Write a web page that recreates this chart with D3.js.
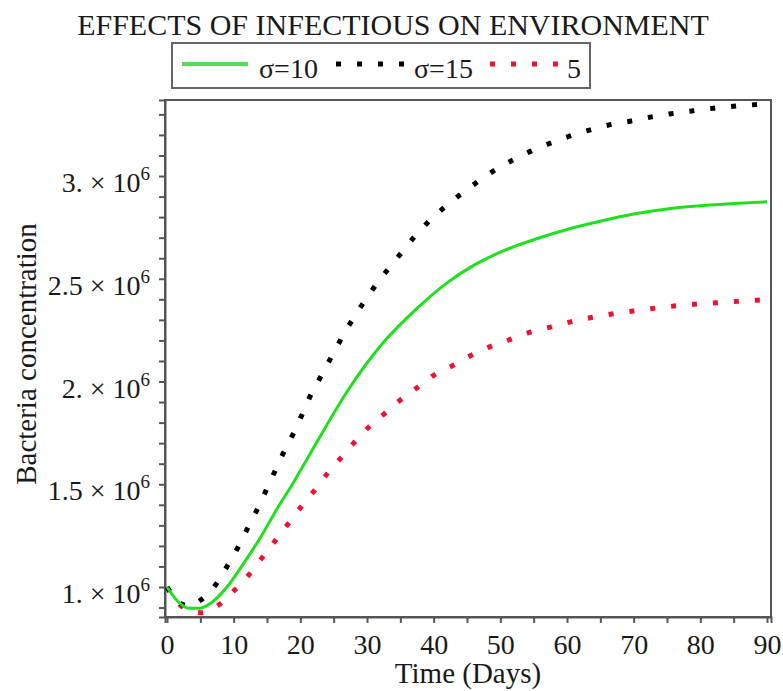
<!DOCTYPE html>
<html>
<head>
<meta charset="utf-8">
<script src="https://cdn.jsdelivr.net/npm/d3@7"></script>
<style>
body { margin: 0; background: #fff; }
</style>
</head>
<body>
<svg id="chart" width="783" height="691"></svg>
<script>
// values, concentration in units of 10^6
var days10 = [0, 2, 3.5, 5, 6.5, 9, 11.5, 14, 16.5, 19, 21.5, 24, 27, 30, 33, 36, 39, 42, 46, 50, 55, 60, 65, 70, 75, 80, 85, 90];
var conc10 = [1.00, 0.918, 0.896, 0.897, 0.92, 1.00, 1.115, 1.24, 1.38, 1.51, 1.65, 1.79, 1.95, 2.09, 2.21, 2.31, 2.40, 2.48, 2.565, 2.63, 2.69, 2.74, 2.78, 2.815, 2.84, 2.855, 2.866, 2.875];

var days15 = [0, 2, 3.5, 5, 7.4, 9, 10.6, 12, 13.5, 15, 16, 17.5, 19, 20.2, 21.5, 23, 24.5, 26, 27.6, 29.3, 31, 33, 35, 37, 39, 41.5, 44, 46.5, 49, 52, 54.5, 57.5, 60.5, 63.5, 66.5, 70, 73, 76, 79, 82, 85, 88.5, 90];
var conc15 = [1.00, 0.92, 0.908, 0.935, 1.015, 1.10, 1.19, 1.28, 1.375, 1.48, 1.55, 1.655, 1.75, 1.835, 1.93, 2.02, 2.11, 2.20, 2.29, 2.375, 2.455, 2.54, 2.62, 2.70, 2.77, 2.845, 2.91, 2.97, 3.025, 3.08, 3.12, 3.16, 3.195, 3.225, 3.25, 3.27, 3.29, 3.305, 3.318, 3.33, 3.34, 3.348, 3.352];

var days5 = [0, 2, 3.5, 5, 6.5, 8, 10, 12.3, 14.2, 16, 18, 20, 22, 24, 26, 28, 30, 32.5, 35, 37.5, 40, 43, 45.5, 48.5, 51.5, 54.5, 57.5, 60.5, 63.5, 67, 70, 73, 76, 79, 82.5, 85.5, 88.5, 90];
var conc5 = [1.00, 0.912, 0.885, 0.875, 0.888, 0.918, 0.98, 1.06, 1.14, 1.215, 1.30, 1.385, 1.465, 1.55, 1.625, 1.70, 1.77, 1.84, 1.91, 1.97, 2.03, 2.08, 2.125, 2.17, 2.205, 2.24, 2.265, 2.29, 2.31, 2.33, 2.343, 2.356, 2.367, 2.376, 2.383, 2.39, 2.396, 2.398];

var seriesNames = ["\u03c3=10", "\u03c3=15", "5"];
var xTicks = [0, 10, 20, 30, 40, 50, 60, 70, 80, 90];
var yTicks = [1, 1.5, 2, 2.5, 3];
var yTickText = ["1.", "1.5", "2.", "2.5", "3."];

var serif = "'Liberation Serif', 'Times New Roman', serif";
var ink = "#1a1a1a";

var svg = d3.select("#chart");

var x = d3.scaleLinear().domain([-0.3, 90.6]).range([165, 771]);
var y = d3.scaleLinear().domain([0.854, 3.37]).range([617, 100]);

// frame
svg.append("rect")
	.attr("x", 165).attr("y", 100)
	.attr("width", 771 - 165).attr("height", 617 - 100)
	.attr("fill", "none")
	.attr("stroke", "#555")
	.attr("stroke-width", 2)

// x axis: minor every 5, labels every 10
var xAxis = svg.append("g")
	.attr("transform", "translate(0,617)")
	.call(d3.axisBottom(x).tickValues(d3.range(0, 91, 5)).tickSize(6).tickPadding(11)
		.tickFormat(function (d) { return xTicks.indexOf(d) > -1 ? d : "" }))
xAxis.select(".domain").attr("stroke", "#555").attr("stroke-width", 2)
xAxis.selectAll(".tick line").attr("stroke", "#555").attr("stroke-width", 2)
xAxis.selectAll(".tick text")
	.style("font-family", serif)
	.style("font-size", "28px")
	.style("fill", ink)

// y axis: minor every 0.1
var yAxis = svg.append("g")
	.attr("transform", "translate(165,0)")
	.call(d3.axisLeft(y).tickValues(d3.range(9, 34).map(function (v) { return v / 10 }))
		.tickSize(6).tickFormat(""))
yAxis.select(".domain").attr("stroke", "#555").attr("stroke-width", 2)
yAxis.selectAll(".tick line").attr("stroke", "#555").attr("stroke-width", 2)

var yLab = svg.append("g").selectAll("text")
	.data(yTicks)
	.enter().append("text")
	.attr("x", 150)
	.attr("y", function (d) { return y(d) + 16 })
	.attr("text-anchor", "end")
	.style("font-family", serif)
	.style("font-size", "28px")
	.style("fill", ink)
yLab.append("tspan").text(function (d, i) { return yTickText[i] + " \u00d7 10" })
yLab.append("tspan").attr("dy", -12).style("font-size", "19px").text("6")

// curves
var line = d3.line()
	.x(function (d) { return x(d[0]) })
	.y(function (d) { return y(d[1]) })
	.curve(d3.curveMonotoneX)

svg.append("path")
	.datum(d3.zip(days5, conc5))
	.attr("d", line)
	.attr("fill", "none")
	.attr("stroke", "#ee1133")
	.attr("stroke-width", 5)
	.attr("stroke-dasharray", "5,16")

svg.append("path")
	.datum(d3.zip(days15, conc15))
	.attr("d", line)
	.attr("fill", "none")
	.attr("stroke", "#000")
	.attr("stroke-width", 5)
	.attr("stroke-dasharray", "5,16")

svg.append("path")
	.datum(d3.zip(days10, conc10))
	.attr("d", line)
	.attr("fill", "none")
	.attr("stroke", "#1fe01f")
	.attr("stroke-width", 3)

// title and axis labels
function label(tx, ty, size, str, rot) {
	return svg.append("text")
		.attr("transform", "translate(" + tx + "," + ty + ")" + (rot ? " rotate(-90)" : ""))
		.attr("text-anchor", "middle")
		.style("font-family", serif)
		.style("font-size", size + "px")
		.style("fill", ink)
		.text(str)
}
label(393, 35, 30, "EFFECTS OF INFECTIOUS ON ENVIRONMENT")
label(468, 683, 29, "Time (Days)")
label(36, 354, 29, "Bacteria concentration", true)

// legend
var legend = svg.append("g")
legend.append("rect")
	.attr("x", 172).attr("y", 43)
	.attr("width", 590 - 172).attr("height", 88 - 43)
	.attr("fill", "#fff")
	.attr("stroke", "#666")
	.attr("stroke-width", 2)

var legItems = [
	{ x1: 182, x2: 248, tx: 259, color: "#55dd55", w: 4, dash: null },
	{ x1: 336, x2: 405, tx: 414, color: "#000", w: 5, dash: "5,16" },
	{ x1: 490, x2: 559, tx: 567, color: "#ee1133", w: 5, dash: "5,16" }
]
legItems.forEach(function (it, i) {
	legend.append("line")
		.attr("x1", it.x1).attr("x2", it.x2)
		.attr("y1", 64).attr("y2", 64)
		.attr("stroke", it.color)
		.attr("stroke-width", it.w)
		.attr("stroke-dasharray", it.dash)
	legend.append("text")
		.attr("x", it.tx).attr("y", 78)
		.style("font-family", serif)
		.style("font-size", "28px")
		.style("fill", ink)
		.text(seriesNames[i])
})
</script>
</body>
</html>
